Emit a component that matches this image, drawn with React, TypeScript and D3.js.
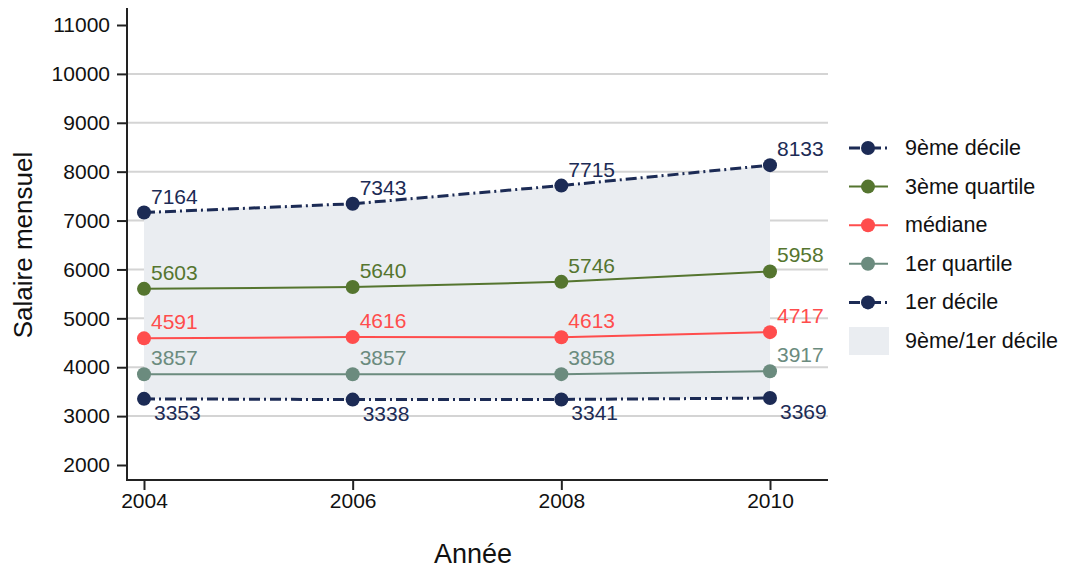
import * as d3 from "d3";
import React, { useEffect, useRef } from "react";

// Data
const years = [2004, 2006, 2008, 2010];
const d9 = [7164, 7343, 7715, 8133];
const q3 = [5603, 5640, 5746, 5958];
const med = [4591, 4616, 4613, 4717];
const q1 = [3857, 3857, 3858, 3917];
const d1 = [3353, 3338, 3341, 3369];
const yTicks = [2000, 3000, 4000, 5000, 6000, 7000, 8000, 9000, 10000, 11000];
const gridTicks = [3000, 4000, 5000, 6000, 7000, 8000, 9000, 10000];

const seriesList = [
  { name: "9ème décile", values: d9, color: "#1c2b55", dash: true, below: false },
  { name: "3ème quartile", values: q3, color: "#55752f", dash: false, below: false },
  { name: "médiane", values: med, color: "#ff4d4d", dash: false, below: false },
  { name: "1er quartile", values: q1, color: "#6b8b7e", dash: false, below: false },
  { name: "1er décile", values: d1, color: "#1c2b55", dash: true, below: true },
];

const FONT = "'Liberation Sans', Arial, Helvetica, sans-serif";

const App = () => {
  const ref = useRef<SVGSVGElement>(null);

  useEffect(() => {
    const svg = d3.select(ref.current);
    svg.selectAll("*").remove();

    const x = d3.scaleLinear().domain([2004, 2010]).range([144, 770]);
    const y = d3.scaleLinear().domain([2000, 11000]).range([465, 25]);
    const left = 127, right = 828, top = 8, bottom = 480;

    // grid
    svg.append("g")
      .selectAll("line")
      .data(gridTicks)
      .join("line")
      .attr("x1", left).attr("x2", right)
      .attr("y1", (d) => y(d)).attr("y2", (d) => y(d))
      .attr("stroke", "#d4d4d4")
      .attr("stroke-width", 2);

    // area between deciles
    const area = d3.area<number>()
      .x((d, i) => x(years[i]))
      .y0((d, i) => y(d1[i]))
      .y1((d) => y(d));
    svg.append("path")
      .datum(d9)
      .attr("d", area)
      .attr("fill", "#eaedf1");

    // axes
    const yAxis = d3.axisLeft(y).tickValues(yTicks).tickSize(10).tickPadding(7).tickFormat(d3.format("d"));
    const gy = svg.append("g").attr("transform", `translate(${left},0)`).call(yAxis);
    gy.attr("font-size", 21).attr("font-family", FONT);
    gy.select(".domain").remove();
    gy.append("line").attr("x1", 0).attr("x2", 0).attr("y1", top).attr("y2", bottom)
      .attr("stroke", "#222").attr("stroke-width", 2);
    gy.selectAll(".tick line").attr("stroke", "#222").attr("stroke-width", 2);
    gy.selectAll(".tick text").attr("fill", "#111");

    const xAxis = d3.axisBottom(x).tickValues(years).tickSize(10).tickPadding(3).tickFormat(d3.format("d"));
    const gx = svg.append("g").attr("transform", `translate(0,${bottom})`).call(xAxis);
    gx.attr("font-size", 21).attr("font-family", FONT);
    gx.select(".domain").remove();
    gx.append("line").attr("x1", left - 1).attr("x2", right).attr("y1", 0).attr("y2", 0)
      .attr("stroke", "#222").attr("stroke-width", 2);
    gx.selectAll(".tick line").attr("stroke", "#222").attr("stroke-width", 2);
    gx.selectAll(".tick text").attr("fill", "#111");

    // series
    const line = d3.line<number>().x((d, i) => x(years[i])).y((d) => y(d));
    seriesList.forEach((s) => {
      svg.append("path")
        .datum(s.values)
        .attr("d", line)
        .attr("fill", "none")
        .attr("stroke", s.color)
        .attr("stroke-width", s.dash ? 3 : 2)
        .attr("stroke-dasharray", s.dash ? "11,4,2,4" : null);
      svg.append("g").selectAll("circle")
        .data(s.values)
        .join("circle")
        .attr("cx", (d, i) => x(years[i]))
        .attr("cy", (d) => y(d))
        .attr("r", 7)
        .attr("fill", s.color);
      svg.append("g").selectAll("text")
        .data(s.values)
        .join("text")
        .attr("x", (d, i) => x(years[i]) + (s.below ? 10 : 7))
        .attr("y", (d) => y(d) + (s.below ? 21 : -9))
        .attr("fill", s.color)
        .style("font-size", "21px")
        .style("font-family", FONT)
        .text((d) => d);
    });

    // legend
    const lg = svg.append("g");
    const rowY = (i: number) => 148 + i * 38.6;
    seriesList.forEach((s, i) => {
      const cy = rowY(i);
      lg.append("line")
        .attr("x1", 849).attr("x2", 888).attr("y1", cy).attr("y2", cy)
        .attr("stroke", s.color).attr("stroke-width", s.dash ? 3 : 2)
        .attr("stroke-dasharray", s.dash ? "11,4,2,4" : null);
      lg.append("circle").attr("cx", 868).attr("cy", cy).attr("r", 7).attr("fill", s.color);
      lg.append("text").attr("x", 905).attr("y", cy + 7).attr("fill", "#111")
        .style("font-size", "21.5px").style("font-family", FONT).text(s.name);
    });
    const ay = rowY(5);
    lg.append("rect").attr("x", 849).attr("y", ay - 14).attr("width", 40).attr("height", 28).attr("fill", "#eaedf1");
    lg.append("text").attr("x", 905).attr("y", ay + 7).attr("fill", "#111")
      .style("font-size", "21.5px").style("font-family", FONT).text("9ème/1er décile");

    // axis titles
    svg.append("text")
      .attr("transform", `translate(32,245) rotate(-90)`)
      .attr("text-anchor", "middle")
      .attr("fill", "#111")
      .style("font-size", "26px").style("font-family", FONT)
      .text("Salaire mensuel");
    svg.append("text")
      .attr("x", 473).attr("y", 563)
      .attr("text-anchor", "middle")
      .attr("fill", "#111")
      .style("font-size", "27px").style("font-family", FONT)
      .text("Année");
  }, []);

  return (
    <svg ref={ref} width={1067} height={569}
      style={{ position: "absolute", left: 0, top: 0, background: "#fff" }} />
  );
};

export default App;
